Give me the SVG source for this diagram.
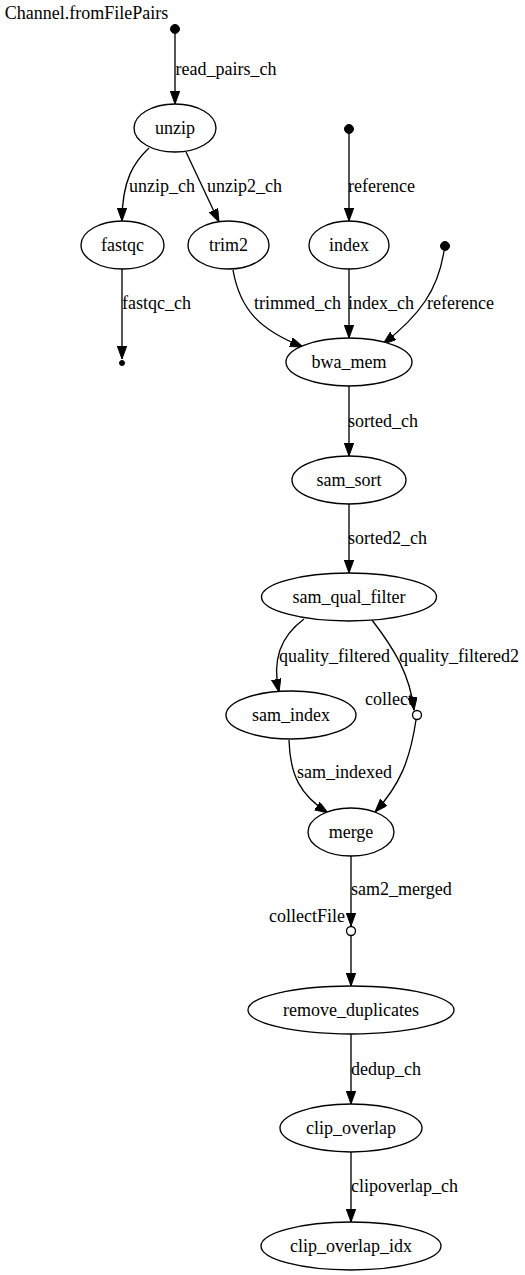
<svg xmlns="http://www.w3.org/2000/svg" width="525" height="1275" viewBox="0 0 525 1275">
<defs>
<marker id="arr" markerUnits="userSpaceOnUse" markerWidth="14" markerHeight="10" refX="13" refY="4.7" orient="auto">
<path d="M0,0 L13,4.7 L0,9.4 z" fill="#000" stroke="#000" stroke-width="1"/>
</marker>
<style>
text{font-family:"Liberation Serif","Times New Roman",serif;font-size:18px;fill:#000}
.n ellipse{fill:#fff;stroke:#000;stroke-width:1.33}
.n text{text-anchor:middle}
.e path{fill:none;stroke:#000;stroke-width:1.33;marker-end:url(#arr)}
.pt{fill:#000;stroke:#000}
.op{fill:#fff;stroke:#000;stroke-width:1.33}
</style>
</defs>
<rect width="525" height="1275" fill="#fff"/>
<g id="connectors" class="e">
<path d="M175,34 L175,104"/>
<path d="M149,148 C134,162 122,180 122,221"/>
<path d="M186,152 L219,222"/>
<path d="M349,134 L349,221"/>
<path d="M122,269 L122,359"/>
<path d="M233,270 C240,310 260,330 303,347"/>
<path d="M349,269 L349,338"/>
<path d="M444,251 C438,290 420,315 383,344"/>
<path d="M349,386 L349,456"/>
<path d="M349,504 L349,573"/>
<path d="M304,619 C280,637 272,660 279,692"/>
<path d="M372,620 C395,650 410,675 414,710"/>
<path d="M289,740 C290,775 300,795 328,813"/>
<path d="M416,720 C410,760 400,785 375,812"/>
<path d="M351,856 L351,926"/>
<path d="M351,936 L351,986"/>
<path d="M351,1034 L351,1104"/>
<path d="M351,1152 L351,1222"/>
</g>
<g id="edge-labels">
<text x="175.5" y="75">read_pairs_ch</text>
<text x="129" y="192">unzip_ch</text>
<text x="207" y="192">unzip2_ch</text>
<text x="348" y="192">reference</text>
<text x="122" y="309">fastqc_ch</text>
<text x="254" y="309">trimmed_ch</text>
<text x="348" y="309">index_ch</text>
<text x="427" y="309">reference</text>
<text x="348" y="427">sorted_ch</text>
<text x="348" y="544">sorted2_ch</text>
<text x="279" y="662">quality_filtered</text>
<text x="399" y="662">quality_filtered2</text>
<text x="297" y="778">sam_indexed</text>
<text x="351" y="895">sam2_merged</text>
<text x="351" y="1075">dedup_ch</text>
<text x="351" y="1192">clipoverlap_ch</text>
</g>
<g id="start" class="n"><circle class="pt" cx="175" cy="29" r="4.5"/><text x="86.5" y="19">Channel.fromFilePairs</text></g>
<g id="ref1"><circle class="pt" cx="349" cy="129" r="4.5"/></g>
<g id="ref2"><circle class="pt" cx="445" cy="246" r="4.5"/></g>
<g id="fastqc_end"><circle class="pt" cx="122" cy="363" r="2.5"/></g>
<g id="unzip" class="n"><ellipse cx="175" cy="128" rx="41" ry="24"/><text x="175" y="134">unzip</text></g>
<g id="fastqc" class="n"><ellipse cx="122.5" cy="245" rx="41.5" ry="24"/><text x="122.5" y="251">fastqc</text></g>
<g id="trim2" class="n"><ellipse cx="228.5" cy="245" rx="40.5" ry="24"/><text x="228.5" y="251">trim2</text></g>
<g id="index" class="n"><ellipse cx="349" cy="245" rx="40" ry="24"/><text x="349" y="251">index</text></g>
<g id="bwa_mem" class="n"><ellipse cx="349" cy="362" rx="63" ry="24"/><text x="349" y="368">bwa_mem</text></g>
<g id="sam_sort" class="n"><ellipse cx="349" cy="480" rx="57" ry="24"/><text x="349" y="486">sam_sort</text></g>
<g id="sam_qual_filter" class="n"><ellipse cx="349" cy="597" rx="87.5" ry="24"/><text x="349" y="603">sam_qual_filter</text></g>
<g id="sam_index" class="n"><ellipse cx="291" cy="715" rx="65" ry="24"/><text x="291" y="721">sam_index</text></g>
<g id="collect"><circle class="op" cx="417" cy="715" r="4.5"/><text x="413" y="705" text-anchor="end">collect</text></g>
<g id="merge" class="n"><ellipse cx="351" cy="832" rx="43" ry="24"/><text x="351" y="838">merge</text></g>
<g id="collectFile"><circle class="op" cx="351" cy="931" r="4.5"/><text x="345" y="922" text-anchor="end">collectFile</text></g>
<g id="remove_duplicates" class="n"><ellipse cx="351" cy="1010" rx="103" ry="24"/><text x="351" y="1016">remove_duplicates</text></g>
<g id="clip_overlap" class="n"><ellipse cx="351" cy="1128" rx="71" ry="24"/><text x="351" y="1134">clip_overlap</text></g>
<g id="clip_overlap_idx" class="n"><ellipse cx="351" cy="1246" rx="90" ry="24"/><text x="351" y="1252">clip_overlap_idx</text></g>
</svg>
